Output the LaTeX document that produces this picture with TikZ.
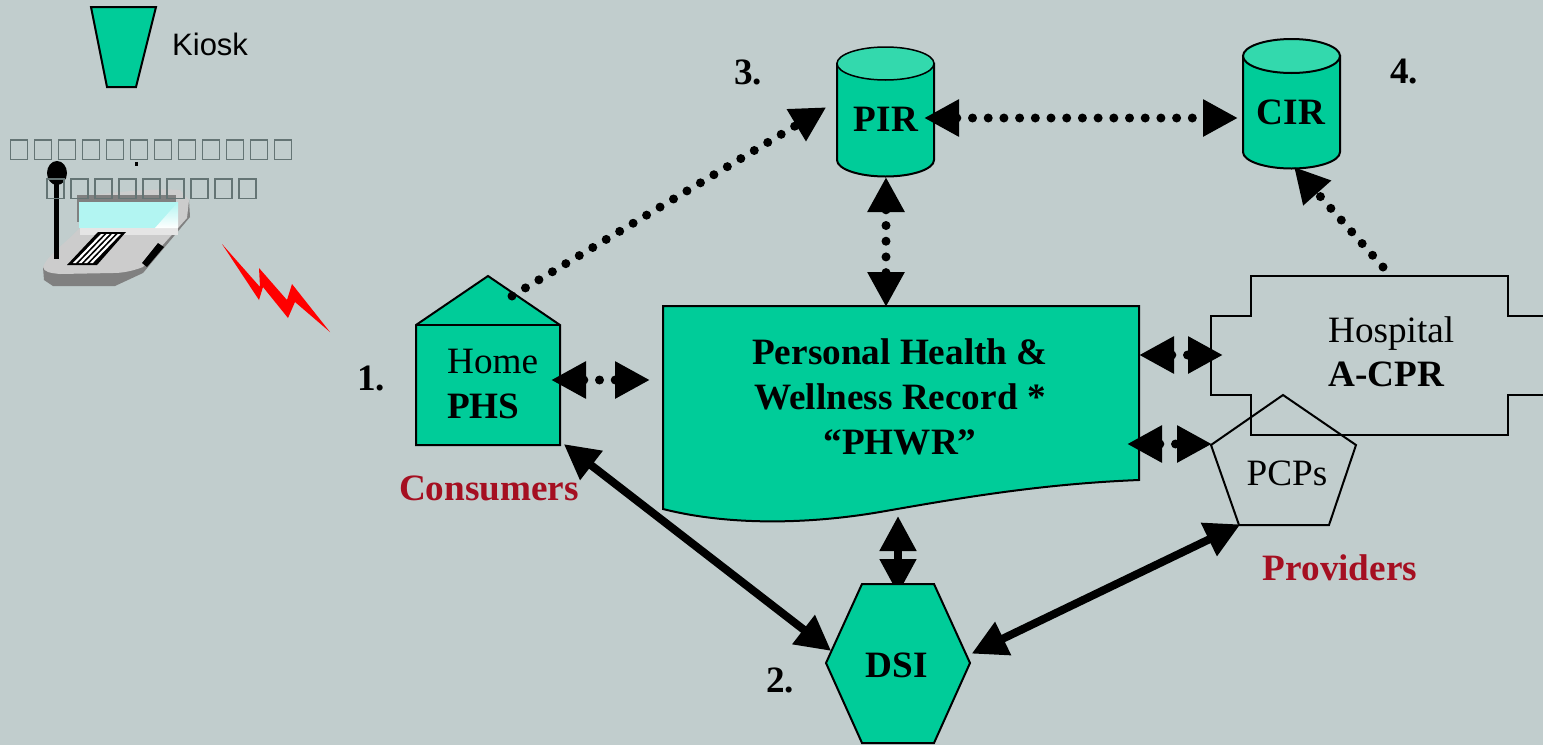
\documentclass[tikz,border=0pt]{standalone}
\usepackage{fontspec}
\setmainfont{Liberation Serif}
\newfontfamily\kiosksans{Liberation Sans}
\usetikzlibrary{arrows.meta}
\definecolor{bgc}{RGB}{193,205,205}
\definecolor{teal1}{RGB}{0,204,153}
\definecolor{teal2}{RGB}{51,217,173}
\definecolor{wine}{RGB}{165,15,33}
\definecolor{tofu}{RGB}{100,116,116}
\definecolor{screenc}{RGB}{178,245,242}
\tikzset{
 x=1pt,y=-1pt,
 shapeline/.style={draw=black,line width=2pt,line join=miter},
 tealshape/.style={shapeline,fill=teal1},
 biglabel/.style={font=\fontsize{37.2}{41}\selectfont\bfseries,inner sep=0pt,text=black},
 reglabel/.style={font=\fontsize{37.2}{41}\selectfont,inner sep=0pt,text=black},
 redlabel/.style={biglabel,text=wine},
 headtip/.tip={Triangle[length=35pt,width=35pt]},
 solidlink/.style={line width=8pt,headtip-headtip,shorten <=-1.5pt,shorten >=-1.5pt},
 dotlink/.style={line width=9pt,line cap=round,dash pattern=on 0pt off 15.7pt,headtip-headtip,shorten <=-1pt,shorten >=-1pt},
 dotsingle/.style={line width=9pt,line cap=round,dash pattern=on 0pt off 15.7pt,-headtip,shorten >=-1.5pt},
 tofubox/.style={draw=tofu,line width=1.4pt,fill=none},
}
\begin{document}
\begin{tikzpicture}
\fill[bgc] (0,0) rectangle (1543,745);
\useasboundingbox (0,0) rectangle (1543,745);

% kiosk legend
\draw[tealshape] (91,7) -- (156,7) -- (136,87) -- (107,87) -- cycle;
\node[font=\fontsize{31}{35}\selectfont\kiosksans,anchor=west,inner sep=0pt] (kiosklabel) at (172,44) {Kiosk};

% kiosk device
\fill[gray] (43,267) -- (44,280) -- (53,286) -- (115,286) -- (143,273) -- (190,217) -- (189,200) -- cycle;
\fill[black!20] (43,267) .. controls (48,255) and (60,248) .. (80,228) -- (80,197) .. controls (120,191) and (160,188) .. (180,190) -- (189,200) -- (187,218) -- (143,267) .. controls (130,272) and (120,273) .. (113,273) -- (60,274) .. controls (50,273) and (44,272) .. (43,267) -- cycle;
\fill[gray] (77,195) rectangle (176,222);
\fill[black!10] (80,228) rectangle (178,235);
\fill[screenc] (79,202) rectangle (178,228);
\shade[top color=screenc,bottom color=white] (155,228) -- (178,202) -- (178,228) -- cycle;
\fill[black] (67,265) -- (98,232) -- (126,232) -- (97,265) -- cycle;
\foreach \i in {0,1,2,3}{
 \fill[white] ({73+5.6*\i},263) -- ({76+5.6*\i},263) -- ({104+5.6*\i},234) -- ({101+5.6*\i},234) -- cycle;
}
\fill[black] (142,263) -- (158,243) -- (164,247) -- (147,267) -- cycle;
\fill[black] (54,170) rectangle (59,259);
\fill[black] (57,173) ellipse [x radius=10,y radius=12];
\fill[black] (134.5,162) rectangle (138,165.5);

% missing-glyph boxes
\foreach \i in {0,...,11}{\draw[tofubox] ({10.5+24*\i},140) rectangle ++(17,19.5);}
\foreach \i in {0,...,8}{\draw[tofubox] ({47+24*\i},179) rectangle ++(17,19.5);}

% lightning
\fill[red] (222,244) -- (260,287) -- (259,268) -- (287,300) -- (292,284) -- (330,332) -- (295,302) -- (288,318) -- (263,287) -- (259,300) -- cycle;

% connector ends
\coordinate (homeroof) at (512,296);
\coordinate (pirleft) at (825,108);
\coordinate (pirright) at (925,118);
\coordinate (cirleft) at (1237,118);
\coordinate (pirbottom) at (886,178);
\coordinate (recordtop) at (886,306);
\coordinate (cirbottom) at (1295,168);
\coordinate (hosptop) at (1383,267);
\coordinate (homeright) at (552,380);
\coordinate (recordleft) at (649,380);
\coordinate (recordhosp) at (1140,355);
\coordinate (hospleft) at (1222,355);
\coordinate (recordpcp) at (1128,444);
\coordinate (pcpleft) at (1211,444);
\coordinate (homecorner) at (565,445);
\coordinate (dsileft) at (830,650);
\coordinate (recordbottom) at (898,516);
\coordinate (dsitop) at (898,594);
\coordinate (dsiright) at (973,653);
\coordinate (pcpcorner) at (1239,525);

% link under the hexagon
\draw[solidlink,shorten >=0pt,shorten <=0pt] (recordbottom) -- (dsitop);

% cylinders
\draw[tealshape] (837,63.5) -- (837,160) arc[start angle=180,end angle=0,x radius=48.5,y radius=16.5] -- (934,63.5) -- cycle;
\draw[shapeline,line width=1.5pt,fill=teal2] (885.5,63.5) ellipse [x radius=48.5,y radius=16.5];
\draw[tealshape] (1243,56) -- (1243,152) arc[start angle=180,end angle=0,x radius=48.5,y radius=16.5] -- (1340,56) -- cycle;
\draw[shapeline,fill=teal2] (1291.5,56) ellipse [x radius=48.5,y radius=17];
\node[biglabel] (pir) at (886,119) {PIR};
\node[biglabel] (cir) at (1291,112) {CIR};

% record
\draw[tealshape] (663,306) -- (1139,306) -- (1139,480) .. controls (1040,484) and (960,498) .. (880,512) .. controls (810,524) and (730,526) .. (663,509) -- cycle;
\node[biglabel] (phwra) at (900,352) {Personal Health \&};
\node[biglabel] (phwrb) at (900,397) {Wellness Record *};
\node[biglabel] (phwrc) at (900,442) {“PHWR”};

% home
\draw[tealshape] (416,325) -- (488,276) -- (560,325) -- (560,445) -- (416,445) -- cycle;
\draw[shapeline] (416,325) -- (560,325);
\node[reglabel,anchor=base west] (homelabel) at (447,373) {Home};
\node[biglabel,anchor=base west] (phslabel) at (447,418) {PHS};

% hospital
\draw[shapeline] (1543,316) -- (1508,316) -- (1508,276) -- (1251,276) -- (1251,316) -- (1211,316) -- (1211,395) -- (1251,395) -- (1251,435) -- (1508,435) -- (1508,395) -- (1543,395);
\node[reglabel,anchor=base west] (hosplabel) at (1328,342) {Hospital};
\node[biglabel,anchor=base west] (acprlabel) at (1328,386) {A-CPR};

% PCPs
\draw[shapeline] (1283,395) -- (1356,445) -- (1329,525) -- (1239,525) -- (1211,445) -- cycle;
\node[reglabel] (pcplabel) at (1287,473) {PCPs};

% DSI
\draw[tealshape] (862,584) -- (934,584) -- (970,663) -- (934,743) -- (862,743) -- (826,663) -- cycle;
\node[biglabel] (dsilabel) at (897,665) {DSI};

% numbers and groups
\node[biglabel] (n3) at (748,72) {3.};
\node[biglabel] (n4) at (1404,72) {4.};
\node[biglabel] (n1) at (371,378) {1.};
\node[biglabel] (n2) at (780,680) {2.};
\node[redlabel] (consumers) at (489,488) {Consumers};
\node[redlabel] (providers) at (1340,568) {Providers};

% connectors
\draw[dotsingle] (homeroof) -- (pirleft);
\draw[dotlink] (pirright) -- (cirleft);
\draw[dotlink] (pirbottom) -- (recordtop);
\draw[dotsingle] (hosptop) -- (cirbottom);
\draw[dotlink] (homeright) -- (recordleft);
\draw[dotlink] (recordhosp) -- (hospleft);
\draw[dotlink] (recordpcp) -- (pcpleft);
\draw[solidlink] (homecorner) -- (dsileft);
\draw[solidlink] (dsiright) -- (pcpcorner);
\end{tikzpicture}
\end{document}
